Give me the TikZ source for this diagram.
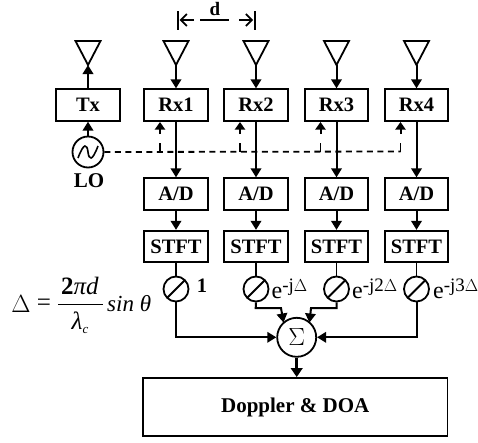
\documentclass[tikz,border=0pt]{standalone}
\usepackage{fontspec}
\setmainfont{Liberation Serif}
\usetikzlibrary{arrows.meta,calc}
\tikzset{
 x=1pt,y=-1pt,
 blk/.style={draw,line width=1.8pt,minimum width=63.5pt,minimum height=31.5pt,inner sep=0pt,font=\fontsize{20.5}{22}\selectfont\bfseries},
 circ/.style={draw,circle,line width=1.8pt,inner sep=0pt},
 lab/.style={inner sep=0pt,font=\fontsize{20.5}{22}\selectfont\bfseries},
 wgt/.style={inner sep=0pt,anchor=west,font=\fontsize{24}{26}\selectfont},
 arr/.style={line width=2pt,-{Triangle[length=9pt,width=10.5pt]}},
 dashline/.style={line width=1.8pt,dash pattern=on 6pt off 4.5pt},
 fla/.style={inner sep=0pt,font=\fontsize{25}{28}\selectfont},
}
\newcommand{\antenna}[1]{\draw[line width=1.8pt,line join=miter] ($(#1)+(-12.5,0)$) -- ($(#1)+(12.5,0)$) -- ($(#1)+(0,24)$) -- cycle;}
\newcommand{\slashcirc}[1]{\draw[line width=1.8pt] ($(#1)+(-8.5,8.5)$) -- ($(#1)+(8.5,-8.5)$);}
\newcommand{\supr}[1]{\raisebox{6.5pt}{\fontsize{19}{20}\selectfont #1}}
\begin{document}
\begin{tikzpicture}
\useasboundingbox (0,0) rectangle (478,442);
% boxes
\node[blk] (tx) at (88,105) {Tx};
\foreach \n/\x in {1/176,2/256,3/336.5,4/416.5}{
 \node[blk] (rx\n) at (\x,105) {Rx\n};
 \node[blk] (ad\n) at (\x,194) {A/D};
 \node[blk] (st\n) at (\x,246.5) {STFT};
 \node[circ,minimum size=25pt] (ph\n) at (\x,289) {};
 \slashcirc{ph\n}
 \coordinate (an\n) at (\x,41);
 \antenna{an\n}
 \coordinate (ap\n) at (\x,65);
 \draw[arr] (ap\n) -- (rx\n.north);
 \draw[arr] (rx\n.south) -- (ad\n.north);
 \draw[arr] (ad\n.south) -- (st\n.north);
 \draw[line width=1.5pt] (st\n.south) -- (ph\n.north);
}
\coordinate (ant) at (88,41); \antenna{ant}
\coordinate (apt) at (88,65);
\draw[arr] (tx.north) -- (apt);
% LO
\node[circ,minimum size=31pt] (lo) at (88,152) {};
\draw[line width=1.6pt] (78,158) .. controls (84,142) and (87,144) .. (88,152) .. controls (89,160) and (92,162) .. (98,146);
\node[lab,font=\fontsize{21}{23}\selectfont\bfseries] (lolab) at (89,181) {LO};
\draw[arr] (lo.north) -- (tx.south);
% LO feed
\coordinate (f4) at (400.5,151.5);
\draw[dashline] (lo.east) -- (f4);
\foreach \n/\x in {1/160,2/240,3/320.5,4/400.5}{
 \coordinate (t\n) at (\x,122);
 \coordinate (b\n) at (\x,134);
 \coordinate (c\n) at (\x,143);
 \coordinate (e\n) at (\x,152.4);
 \draw[line width=2pt,-{Triangle[length=7.5pt,width=10pt]}] (b\n) -- (t\n);
 \draw[line width=1.8pt] (c\n) -- (e\n);
}
% d
\coordinate (dl) at (178,20);
\coordinate (dr) at (254.7,20);
\coordinate (dla) at (194,20);
\coordinate (dra) at (239,20);
\coordinate (dma) at (200,20);
\coordinate (dmb) at (228.5,20);
\draw[line width=1.8pt] ($(dl)+(0,-9)$) -- ($(dl)+(0,10)$);
\draw[line width=1.8pt] ($(dr)+(0,-9)$) -- ($(dr)+(0,10)$);
\draw[line width=1.8pt,-{Straight Barb[length=6pt,width=12pt]}] (dla) -- ($(dl)+(1.5,0)$);
\draw[line width=1.8pt,-{Straight Barb[length=6pt,width=12pt]}] (dra) -- ($(dr)+(-1.5,0)$);
\draw[line width=1.8pt] (dma) -- (dmb);
\node[lab,font=\fontsize{19}{21}\selectfont\bfseries] (dlab) at (215,8.5) {d};
% sum
\node[circ,minimum size=39pt] (sum) at (296.7,337.3) {};
\node[inner sep=0pt,font=\fontsize{28}{30}\selectfont] (sigma) at (296.7,337) {$\Sigma$};
\node[blk,minimum width=304.5pt,minimum height=58pt,font=\fontsize{21}{23}\selectfont\bfseries] (doa) at (295.2,407) {Doppler \& DOA};
\draw[line width=3.5pt,-{Triangle[length=9pt,width=11.5pt]}] (sum.south) -- (sum.south |- doa.north);
\draw[arr] (ph1.south) |- (sum.west);
\draw[arr] (ph4.south) |- (sum.east);
\coordinate (k2a) at (255.7,308); \coordinate (k2b) at (281,308); \coordinate (k2c) at (283.5,322.5);
\coordinate (k3a) at (336.5,308); \coordinate (k3b) at (311,308); \coordinate (k3c) at (309.5,322.5);
\draw[arr] (ph2.south) -- (k2a) -- (k2b) -- (k2c);
\draw[arr] (ph3.south) -- (k3a) -- (k3b) -- (k3c);
% weights
\node[lab] (w1) at (202,285.5) {1};
\node[wgt] (w2) at (271.5,289) {e\supr{-j$\Delta$}};
\node[wgt] (w3) at (352,289) {e\supr{-j2$\Delta$}};
\node[wgt] (w4) at (433,289) {e\supr{-j3$\Delta$}};
% formula
\node[fla] (fd) at (21,304) {$\Delta$};
\node[fla] (fe) at (44,305) {=};
\node[fla] (fn) at (80,286) {\textbf{2}\textit{πd}};
\coordinate (fa) at (58,304.5);
\coordinate (fb) at (103,304.5);
\draw[line width=1.3pt] (fa) -- (fb);
\node[fla] (fl) at (80,323) {\textit{λ}\raisebox{-4pt}{\fontsize{13}{14}\selectfont\textit{c}}};
\node[fla,anchor=west,font=\fontsize{23}{26}\selectfont] (fs) at (107,304) {\textit{sin θ}};
\end{tikzpicture}
\end{document}
